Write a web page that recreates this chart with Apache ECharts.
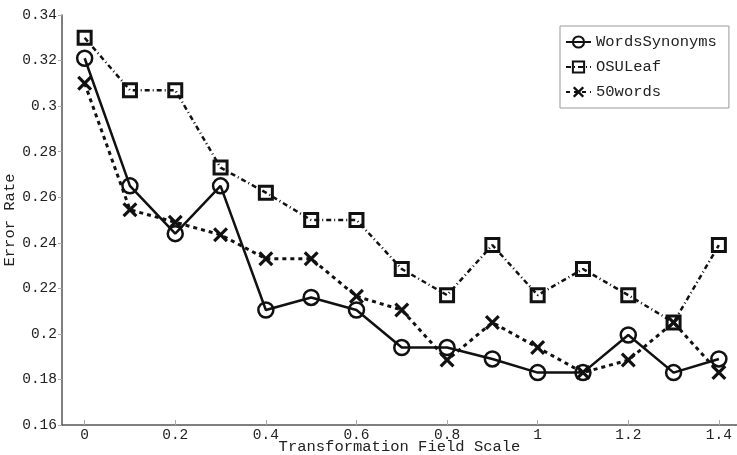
<!DOCTYPE html>
<html>
<head>
<meta charset="utf-8">
<script src="https://cdn.jsdelivr.net/npm/echarts@6/dist/echarts.min.js"></script>
<style>
html,body{margin:0;padding:0;background:#fff;}
#chart{width:737px;height:455px;}
</style>
</head>
<body>
<div id="chart"></div>
<script>
var xValues = [0, 0.1, 0.2, 0.3, 0.4, 0.5, 0.6, 0.7, 0.8, 0.9, 1.0, 1.1, 1.2, 1.3, 1.4];
var wordsSynonyms = [0.321, 0.265, 0.244, 0.265, 0.2105, 0.216, 0.2105, 0.194, 0.194, 0.189, 0.183, 0.183, 0.1995, 0.183, 0.189];
var osuLeaf = [0.330, 0.307, 0.307, 0.273, 0.262, 0.250, 0.250, 0.2285, 0.217, 0.239, 0.217, 0.2285, 0.217, 0.205, 0.239];
var fiftyWords = [0.310, 0.2545, 0.249, 0.2435, 0.233, 0.233, 0.2165, 0.2105, 0.1885, 0.205, 0.194, 0.183, 0.1885, 0.205, 0.183];
var xTickLabels = [0, 0.2, 0.4, 0.6, 0.8, 1, 1.2, 1.4];
var seriesNames = ['WordsSynonyms', 'OSULeaf', '50words'];

function zip(ys) { return xValues.map(function (x, i) { return [x, ys[i]]; }); }

var FONT = 'Liberation Mono';
var xPath = 'path://M0,1.5 L1.5,0 L5,3.5 L8.5,0 L10,1.5 L6.5,5 L10,8.5 L8.5,10 L5,6.5 L1.5,10 L0,8.5 L3.5,5 Z';

var chart = echarts.init(document.getElementById('chart'), null, {renderer: 'canvas'});
chart.setOption({
  animation: false,
  backgroundColor: '#fff',
  grid: {left: 62, top: 15, right: 0, bottom: 30, containLabel: false, outerBoundsMode: 'none'},
  xAxis: {
    type: 'value', min: -0.05, max: 1.44,
    name: 'Transformation Field Scale', nameLocation: 'middle', nameGap: 14, nameMoveOverlap: false,
    nameTextStyle: {fontFamily: FONT, fontSize: 15.5, color: '#222'},
    axisLine: {show: true, onZero: false, lineStyle: {color: '#555', width: 1.5}},
    axisTick: {show: true, inside: true, length: 5, customValues: xTickLabels, lineStyle: {color: '#aaa'}},
    axisLabel: {customValues: xTickLabels, fontFamily: FONT, fontSize: 14.5, color: '#222', margin: 3,
      formatter: function (v) { return String(parseFloat(v.toFixed(2))); }},
    splitLine: {show: false}
  },
  yAxis: {
    type: 'value', min: 0.16, max: 0.34, interval: 0.02,
    name: 'Error Rate', nameLocation: 'middle', nameGap: 44, nameRotate: 90, nameMoveOverlap: false,
    nameTextStyle: {fontFamily: FONT, fontSize: 15.5, color: '#222'},
    axisLine: {show: true, onZero: false, lineStyle: {color: '#555', width: 1.5}},
    axisTick: {show: true, inside: false, length: 4, lineStyle: {color: '#aaa'}},
    axisLabel: {fontFamily: FONT, fontSize: 14.5, color: '#222', margin: 5,
      formatter: function (v) { return String(parseFloat(v.toFixed(2))); }},
    splitLine: {show: false}
  },
  legend: {
    left: 560, top: 26,
    orient: 'vertical',
    data: seriesNames,
    backgroundColor: '#fff',
    borderColor: '#999', borderWidth: 1,
    padding: [8, 12, 8, 5],
    itemGap: 9, itemWidth: 25, itemHeight: 14,
    textStyle: {fontFamily: FONT, fontSize: 15.5, color: '#222'}
  },
  series: [
    {
      name: seriesNames[0], type: 'line', data: zip(wordsSynonyms),
      symbol: 'circle', symbolSize: 15, z: 2,
      color: '#111',
      lineStyle: {color: '#111', width: 2.5, type: 'solid'},
      itemStyle: {color: 'rgba(255,255,255,0)', borderColor: '#111', borderWidth: 2.5}
    },
    {
      name: seriesNames[1], type: 'line', data: zip(osuLeaf),
      symbol: 'rect', symbolSize: 13, z: 3,
      color: '#111',
      lineStyle: {color: '#111', width: 2.5, type: [5, 3, 1, 3]},
      itemStyle: {color: 'rgba(255,255,255,0)', borderColor: '#111', borderWidth: 3}
    },
    {
      name: seriesNames[2], type: 'line', data: zip(fiftyWords),
      symbol: xPath, symbolSize: 15, z: 4,
      color: '#111',
      lineStyle: {color: '#111', width: 3, type: [4, 4]},
      itemStyle: {color: '#111', borderWidth: 0}
    }
  ]
});
</script>
</body>
</html>
